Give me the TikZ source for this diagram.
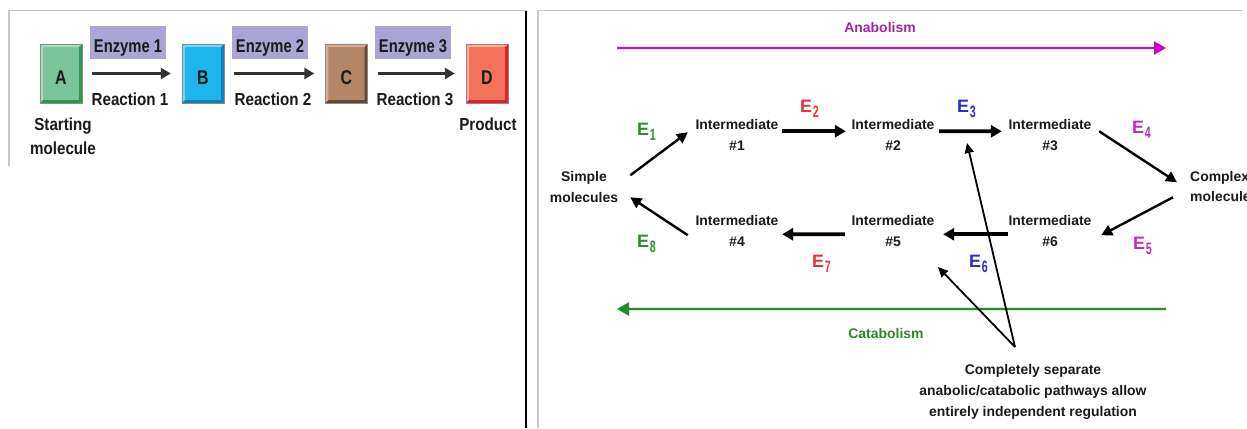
\documentclass[tikz,border=0pt]{standalone}
\usepackage{fontspec}
\setmainfont{Liberation Sans}
\newfontfamily\condfont{Liberation Sans}[FakeStretch=0.87]
\newfontfamily\enzfont{Liberation Sans}[FakeStretch=0.8]
\newfontfamily\subfnt{Liberation Sans}[FakeStretch=0.65]
\usetikzlibrary{arrows.meta}
\definecolor{txt}{HTML}{1A1A1A}
\definecolor{frame}{HTML}{C6C6C6}
\definecolor{boxA}{HTML}{7CC49A}\definecolor{boxAl}{HTML}{A9DCBE}\definecolor{boxAd}{HTML}{2F9650}
\definecolor{boxB}{HTML}{1DB6EC}\definecolor{boxBl}{HTML}{76D3F4}\definecolor{boxBd}{HTML}{127FB6}
\definecolor{boxC}{HTML}{B48668}\definecolor{boxCl}{HTML}{D2AE96}\definecolor{boxCd}{HTML}{6A4530}
\definecolor{boxD}{HTML}{F3735A}\definecolor{boxDl}{HTML}{F8AC9C}\definecolor{boxDd}{HTML}{E31E26}
\definecolor{boxline}{HTML}{8A8A8A}
\definecolor{enz}{HTML}{A9A5D5}
\definecolor{larrc}{HTML}{333333}
\definecolor{anabc}{HTML}{A126A6}
\definecolor{anabhead}{HTML}{C800C8}
\definecolor{anabglow}{HTML}{F8DDF8}
\definecolor{catabc}{HTML}{288A28}
\definecolor{catabglow}{HTML}{D6EED6}
\definecolor{eg}{HTML}{2E8B2E}
\definecolor{er}{HTML}{E6343A}
\definecolor{eb}{HTML}{2B2BC6}
\definecolor{em}{HTML}{C22BC2}
\newcommand\esub[1]{\kern0.6bp\raisebox{-5bp}{\subfnt\bfseries\fontsize{16.5}{16.5}\selectfont #1}}
\newcommand\bevelbox[6]{%
  \node[letterbox, fill=#3] (#1) at (#2) {#6};
  \fill[#4] (#1.north west) -- (#1.north east) -- ([shift={(-3,3)}]#1.north east) -- ([shift={(3,3)}]#1.north west) -- cycle;
  \fill[#4] (#1.north west) -- (#1.south west) -- ([shift={(3,-3)}]#1.south west) -- ([shift={(3,3)}]#1.north west) -- cycle;
  \fill[#5] (#1.south west) -- (#1.south east) -- ([shift={(-3,-3)}]#1.south east) -- ([shift={(3,-3)}]#1.south west) -- cycle;
  \fill[#5] (#1.north east) -- (#1.south east) -- ([shift={(-3,-3)}]#1.south east) -- ([shift={(-3,3)}]#1.north east) -- cycle;
  \draw[boxline, line width=0.6bp] (#1.south west) rectangle (#1.north east);
}
\begin{document}
\begin{tikzpicture}[x=1bp,y=-1bp,
  lbl/.style={inner sep=0pt, text=txt, align=center, font=\condfont\bfseries\fontsize{17.5}{24}\selectfont},
  enzbox/.style={fill=enz, inner sep=0pt, minimum width=76bp, text height=26bp, text depth=7bp, text=txt, font=\enzfont\bfseries\fontsize{18.5}{18.5}\selectfont},
  letterbox/.style={inner sep=0pt, minimum width=42bp, text height=40bp, text depth=19bp, text=txt, font=\enzfont\bfseries\fontsize{20}{20}\selectfont},
  larr/.style={draw=larrc, line width=2.4bp, -{Triangle[length=10bp,width=11bp]}, shorten <=10bp, shorten >=11bp},
  rtxt/.style={inner sep=0pt, align=center, text=txt, font=\bfseries\fontsize{14}{21}\selectfont},
  elab/.style={inner sep=0pt, anchor=base west, font=\bfseries\fontsize{18}{18}\selectfont},
  harr/.style={draw=black, line width=3.6bp, -{Triangle[length=11bp,width=12bp]}},
  darr/.style={draw=black, line width=2.4bp, -{Triangle[length=11bp,width=11bp]}},
  narr/.style={draw=black, line width=1.8bp, -{Triangle[length=10bp,width=9bp]}},
  framel/.style={draw=frame, line width=1.2bp}
]
\useasboundingbox (0,0) rectangle (1247,428);
\clip (0,0) rectangle (1247,428);
\fill[white] (0,0) rectangle (1247,428);

% panel frames
\draw[framel] (9,166) -- (9,10.7) -- (526,10.7);
\draw[black, line width=2bp] (526,10.7) -- (526,428);
\draw[framel] (538,428) -- (538,10.7) -- (1243,10.7);

% ---------- left panel ----------
\bevelbox{A}{61,73.5}{boxA}{boxAl}{boxAd}{A}
\bevelbox{B}{203,73.5}{boxB}{boxBl}{boxBd}{B}
\bevelbox{C}{346.5,73.5}{boxC}{boxCl}{boxCd}{C}
\bevelbox{D}{487,73.5}{boxD}{boxDl}{boxDd}{D}

\node[enzbox] (en1) at (128,42.5) {Enzyme 1};
\node[enzbox] (en2) at (270,42.5) {Enzyme 2};
\node[enzbox] (en3) at (413,42.5) {Enzyme 3};

\draw[larr] (A.east) -- (B.west);
\draw[larr] (B.east) -- (C.west);
\draw[larr] (C.east) -- (D.west);

\node[lbl, anchor=base] (r1) at (130,105.8) {Reaction 1};
\node[lbl, anchor=base] (r2) at (273,105.8) {Reaction 2};
\node[lbl, anchor=base] (r3) at (415,105.8) {Reaction 3};
\node[lbl, anchor=north] (start) at (63,118) {Starting\\molecule};
\node[lbl, anchor=north] (prod) at (488,118) {Product};

% ---------- right panel ----------
\node[rtxt, text=anabc, anchor=base] (anabT) at (880,32.7) {Anabolism};
\coordinate (anS) at (617,48);
\coordinate (anE) at (1166,48);
\draw[draw=anabglow, line width=4.4bp, shorten >=9bp] (anS) -- (anE);
\draw[draw=anabc, line width=2.6bp, -{Triangle[length=12bp,width=13bp,color=anabhead]}] (anS) -- (anE);

\node[rtxt, text=catabc, anchor=base] (catT) at (886,338) {Catabolism};
\coordinate (caS) at (1166,309);
\coordinate (caE) at (617,309);
\draw[draw=catabglow, line width=4.4bp, shorten >=9bp] (caS) -- (caE);
\draw[draw=catabc, line width=2.6bp, -{Triangle[length=12bp,width=13bp]}] (caS) -- (caE);

\node[rtxt, anchor=north] (S) at (584,171) {Simple\\molecules};
\node[rtxt, anchor=north west, align=left] (Cx) at (1190,170.7) {Complex\\molecules};
\node[rtxt, anchor=north] (I1) at (737,119.3) {Intermediate\\\#1};
\node[rtxt, anchor=north] (I2) at (893,119.3) {Intermediate\\\#2};
\node[rtxt, anchor=north] (I3) at (1050,119.3) {Intermediate\\\#3};
\node[rtxt, anchor=north] (I4) at (737,215) {Intermediate\\\#4};
\node[rtxt, anchor=north] (I5) at (893,215) {Intermediate\\\#5};
\node[rtxt, anchor=north] (I6) at (1050,215) {Intermediate\\\#6};

\node[elab, text=eg] (e1) at (637,135) {E\esub{1}};
\node[elab, text=er] (e2) at (800,112) {E\esub{2}};
\node[elab, text=eb] (e3) at (957,112) {E\esub{3}};
\node[elab, text=em] (e4) at (1132,133) {E\esub{4}};
\node[elab, text=em] (e5) at (1133,249) {E\esub{5}};
\node[elab, text=eb] (e6) at (969,267) {E\esub{6}};
\node[elab, text=er] (e7) at (812,267) {E\esub{7}};
\node[elab, text=eg] (e8) at (637,247) {E\esub{8}};

\draw[darr] ([shift={(12,-11.5)}]S.east) -- ([shift={(-7.5,-2.8)}]I1.west);
\draw[harr] ([shift={(3.5,-3.8)}]I1.east) -- ([shift={(-5.5,-3.8)}]I2.west);
\draw[harr] ([shift={(4.5,-3.8)}]I2.east) -- ([shift={(-6.5,-3.8)}]I3.west);
\draw[darr] ([shift={(7.5,-3.8)}]I3.east) -- ([shift={(-13,-4.2)}]Cx.west);
\draw[darr] ([shift={(-17,10.8)}]Cx.west) -- ([shift={(9.5,4.5)}]I6.east);
\draw[harr] ([shift={(-0.5,3.5)}]I6.west) -- ([shift={(8.5,3.5)}]I5.east);
\draw[harr] ([shift={(-6.5,3.5)}]I5.west) -- ([shift={(3.5,3.5)}]I4.east);
\draw[darr] ([shift={(-7.5,4.5)}]I4.west) -- ([shift={(12,10.5)}]S.east);

\node[rtxt, anchor=north] (N) at (1033,364) {Completely separate\\anabolic/catabolic pathways allow\\entirely independent regulation};
\coordinate (reg1) at (967,143);
\coordinate (reg2) at (938,267);
\draw[narr] ([shift={(-18,-17)}]N.north) -- (reg1);
\draw[narr] ([shift={(-18,-17)}]N.north) -- (reg2);
\end{tikzpicture}
\end{document}
